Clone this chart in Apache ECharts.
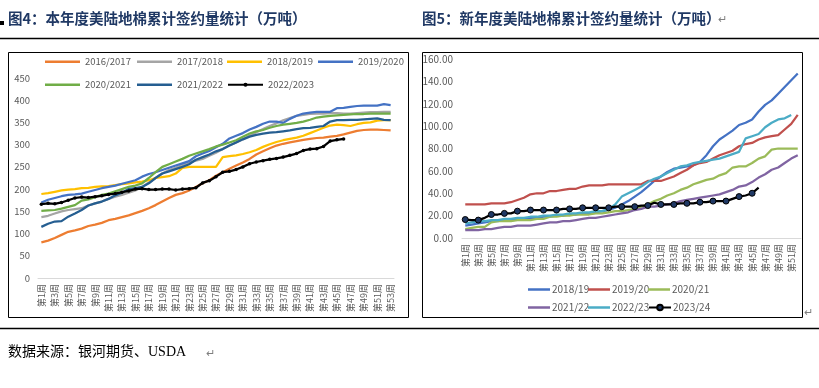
<!DOCTYPE html>
<html><head><meta charset="utf-8">
<script src="https://cdn.jsdelivr.net/npm/echarts@6/dist/echarts.min.js"></script>
<style>html,body{margin:0;padding:0;background:#fff}#c{width:819px;height:388px}</style>
</head><body><div id="c"></div>
<script>
// ---------- Left chart (图4) ----------
const weeksL = [];
for (let i = 1; i <= 53; i++) weeksL.push('第' + i + '周');
const yTicksL = [0, 50, 100, 150, 200, 250, 300, 350, 400, 450];
const namesL = ['2016/2017', '2017/2018', '2018/2019', '2019/2020', '2020/2021', '2021/2022', '2022/2023'];
const s1617 = [80,84,90,97,104,107,111,117,120,124,130,133,137,141,146,151,157,164,172,180,187,191,197,205,213,220,230,238,246,253,260,268,278,285,292,298,302,305,308,311,313,315,316,318,320,323,327,331,333,334,334,333,332];
const s1718 = [137,140,145,150,153,155,157,163,168,172,178,183,187,192,197,205,215,225,235,243,248,255,260,264,268,275,282,290,298,305,312,320,328,335,342,348,355,360,365,367,369,370,370,371,371,370,370,371,372,373,373,374,374];
const s1819 = [189,191,194,197,199,200,202,203,205,206,207,209,211,213,215,217,220,225,227,229,235,248,250,250,250,250,250,272,274,276,279,283,288,295,301,306,310,313,316,320,326,332,338,343,345,344,342,346,349,350,354,355,355];
const s1920 = [170,176,180,184,187,188,190,194,198,202,205,208,212,216,220,228,234,238,243,248,253,258,263,274,280,286,294,302,314,320,326,334,340,347,352,352,349,358,365,370,372,374,374,374,382,383,385,387,388,388,388,391,389];
const s2021 = [151,152,153,156,160,164,174,177,182,187,190,195,200,205,208,213,225,238,250,256,262,268,275,280,285,290,296,300,305,310,318,325,330,333,338,342,345,347,349,352,356,361,363,365,366,367,368,369,369,370,370,370,370];
const s2122 = [115,122,127,128,138,145,153,163,168,172,178,186,192,200,202,205,213,225,235,240,245,250,256,266,272,278,285,290,298,305,312,318,322,325,327,328,330,332,335,337,338,340,342,352,355,355,356,356,357,358,359,356,355];
const s2223 = [166,168,167,170,175,180,182,181,183,185,188,190,193,196,200,201,199,199,200,200,198,200,201,203,214,219,228,238,240,244,250,257,261,264,267,269,272,276,280,287,290,291,296,308,311,313];
const colorsL = ['#ED7D31', '#A5A5A5', '#FFC000', '#4472C4', '#70AD47', '#255E91', '#000000'];

// ---------- Right chart (图5) ----------
const weeksR = [];
for (let i = 1; i <= 52; i++) weeksR.push('第' + i + '周');
const yTicksR = [0, 20, 40, 60, 80, 100, 120, 140, 160];
const namesR = ['2018/19', '2019/20', '2020/21', '2021/22', '2022/23', '2023/24'];
const r1819 = [11,12,13,14,15,15,16,16,17,17,18,18,19,19,20,20,21,21,22,22,23,24,25,27,30,33,37,41,46,51,55,59,62,63,64,65,68,74,82,88,92,96,101,103,106,113,119,123,129,135,141,147];
const r1920 = [30,30,30,30,31,31,31,32,34,36,39,40,40,42,42,43,44,44,46,47,47,47,48,48,48,48,48,48,51,51,51,53,55,58,61,65,67,68,71,74,76,78,82,84,85,88,90,91,92,97,102,110];
const r2021 = [8,9,10,10,14,15,15,15,16,16,16,17,17,19,19,20,20,21,21,21,22,22,23,24,24,25,26,28,30,33,35,38,40,43,45,48,50,52,53,56,58,63,64,64,67,71,73,79,80,80,80,80];
const r2122 = [7,7,7,8,8,9,10,10,11,11,11,12,13,14,14,15,15,16,17,18,18,19,20,21,22,23,25,26,28,28,29,30,31,33,34,35,36,37,38,39,41,43,46,47,50,54,57,61,63,67,71,74];
const r2223 = [13,14,15,15,16,16,17,17,18,18,19,19,20,20,21,21,22,22,23,23,24,24,26,30,37,40,43,46,50,53,55,58,61,64,65,67,68,69,70,71,73,75,77,89,91,93,99,103,106,107,110];
const r2324 = [16.5,16,16,18,21,21,22,22,24,24,25,25,25,25,25,26,26,26,27,27,27,27,27,28,28,28,28,29,29,31.5,30,30,30,31,31,31,32,32,33,33,33,35,37,38,40,45];
const colorsR = ['#4472C4', '#C0504D', '#9BBB59', '#8064A2', '#4BACC6', '#000000'];

const dataL = [s1617, s1718, s1819, s1920, s2021, s2122, s2223];
const dataR = [r1819, r1920, r2021, r2122, r2223, r2324];

const FONT = '"Noto Sans CJK SC", "Noto Sans", sans-serif';
const TXT = '#595959';

const series = [];
namesL.forEach((n, i) => {
  const isBlack = i === 6;
  series.push({
    name: n, type: 'line', xAxisIndex: 0, yAxisIndex: 0, data: dataL[i],
    symbol: isBlack ? 'circle' : 'none', symbolSize: isBlack ? 3.5 : 0, showSymbol: isBlack,
    lineStyle: { color: colorsL[i], width: 2.25 },
    itemStyle: { color: colorsL[i] },
    z: isBlack ? 10 : 2
  });
});
namesR.forEach((n, i) => {
  const isBlack = i === 5;
  series.push({
    name: n, type: 'line', xAxisIndex: 1, yAxisIndex: 1, data: dataR[i],
    symbol: isBlack ? 'circle' : 'none', symbolSize: isBlack ? 6 : 0, showSymbol: isBlack,
    lineStyle: { color: colorsR[i], width: 2.25 },
    itemStyle: isBlack ? { color: '#1F3864', borderColor: '#000', borderWidth: 1 } : { color: colorsR[i] },
    z: isBlack ? 10 : 2
  });
});

// one legend component per entry, placed like the reference
const legLeftX = [45, 137, 227, 318, 45, 137, 227];
const legLeftY = [57, 57, 57, 57, 80, 80, 80];
const legRightX = [528, 588, 648, 528, 588, 648];
const legRightY = [284.5, 284.5, 284.5, 302.5, 302.5, 302.5];
const legends = [];
namesL.forEach((n, i) => {
  const isBlack = i === 6;
  legends.push({
    data: [isBlack ? { name: n } : { name: n, icon: 'rect' }],
    left: legLeftX[i], top: legLeftY[i], padding: 0,
    itemWidth: 35, itemHeight: isBlack ? 5 : 2.5,
    textStyle: { fontSize: 9.5, color: TXT, fontFamily: FONT }
  });
});
namesR.forEach((n, i) => {
  const isBlack = i === 5;
  legends.push({
    data: [isBlack ? { name: n } : { name: n, icon: 'rect' }],
    left: legRightX[i], top: legRightY[i], padding: 0,
    itemWidth: 22, itemHeight: isBlack ? 7 : 2.5,
    textStyle: { fontSize: 10, color: TXT, fontFamily: FONT, padding: [0, 0, 0, -3] }
  });
});

const chart = echarts.init(document.getElementById('c'), null, { renderer: 'canvas' });
chart.setOption({
  animation: false,
  backgroundColor: '#fff',
  grid: [
    { left: 38, top: 78, width: 356, height: 200 },
    { left: 462, top: 59, width: 339, height: 179 }
  ],
  xAxis: [
    { type: 'category', gridIndex: 0, data: weeksL, boundaryGap: true,
      axisLine: { lineStyle: { color: '#D9D9D9', width: 1 } }, axisTick: { show: false },
      axisLabel: { interval: 1, rotate: 90, fontSize: 9, color: TXT, fontFamily: FONT, margin: 6 } },
    { type: 'category', gridIndex: 1, data: weeksR, boundaryGap: true,
      axisLine: { lineStyle: { color: '#D9D9D9', width: 1 } }, axisTick: { show: false },
      axisLabel: { interval: 1, rotate: 90, fontSize: 9, color: TXT, fontFamily: FONT, margin: 6 } }
  ],
  yAxis: [
    { type: 'value', gridIndex: 0, min: yTicksL[0], max: yTicksL[yTicksL.length - 1], interval: 50,
      splitLine: { show: false }, axisLine: { show: false }, axisTick: { show: false },
      axisLabel: { fontSize: 9.5, color: TXT, fontFamily: FONT, margin: 8 } },
    { type: 'value', gridIndex: 1, min: yTicksR[0], max: yTicksR[yTicksR.length - 1], interval: 20,
      splitLine: { show: false }, axisLine: { show: false }, axisTick: { show: false },
      axisLabel: { fontSize: 10, color: TXT, fontFamily: FONT, margin: 9, formatter: v => v.toFixed(2) } }
  ],
  legend: legends,
  graphic: [
    { type: 'rect', left: 0, top: 21, shape: { width: 4, height: 4 }, style: { fill: '#000' } },
    { type: 'text', left: 8, top: 11, style: { text: '图4：本年度美陆地棉累计签约量统计（万吨）', font: 'bold 14.5px ' + FONT, fill: '#1F3864' } },
    { type: 'text', left: 422, top: 11, style: { text: '图5：新年度美陆地棉累计签约量统计（万吨）', font: 'bold 14.5px ' + FONT, fill: '#1F3864' } },
    { type: 'text', left: 718, top: 13, style: { text: '↵', font: '11px ' + FONT, fill: '#7F7F7F' } },
    { type: 'line', shape: { x1: 0, y1: 38.5, x2: 819, y2: 38.5 }, style: { stroke: '#000', lineWidth: 1.3 } },
    { type: 'rect', shape: { x: 8.5, y: 52.5, width: 400, height: 265 }, style: { fill: 'none', stroke: '#000', lineWidth: 1 } },
    { type: 'rect', shape: { x: 422.5, y: 52.5, width: 380, height: 265 }, style: { fill: 'none', stroke: '#000', lineWidth: 1 } },
    { type: 'text', left: 804, top: 306, style: { text: '↵', font: '11px ' + FONT, fill: '#7F7F7F' } },
    { type: 'line', shape: { x1: 0, y1: 328.5, x2: 819, y2: 328.5 }, style: { stroke: '#000', lineWidth: 1.3 } },
    { type: 'text', left: 8, top: 345, style: { text: '数据来源：银河期货、USDA', font: '14px "Liberation Serif", "Noto Sans CJK SC", serif', fill: '#000' } },
    { type: 'text', left: 206, top: 347, style: { text: '↵', font: '11px ' + FONT, fill: '#7F7F7F' } }
  ],
  series: series
});
</script>
</body></html>
